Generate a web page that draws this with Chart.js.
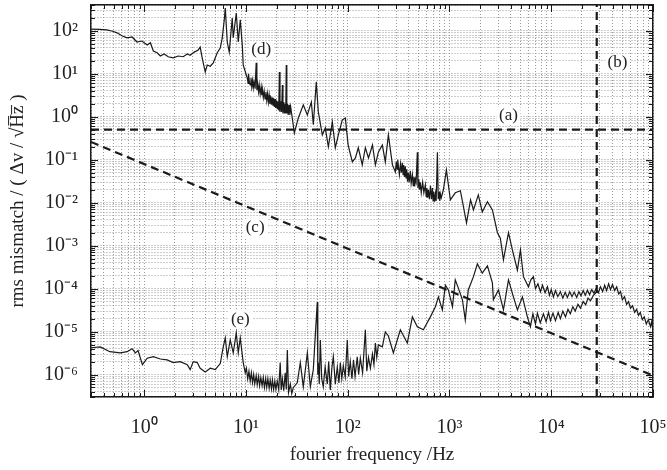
<!DOCTYPE html>
<html lang="en">
<head>
<meta charset="UTF-8">
<title>rms mismatch spectrum</title>
<script src="https://cdn.jsdelivr.net/npm/chart.js@4.4.1/dist/chart.umd.min.js"></script>
<style>
  html, body { margin: 0; padding: 0; background: #fff; }
</style>
</head>
<body>
<canvas id="spectrum" width="667" height="470"></canvas>
<script>
// axis decades and their labels
var xTickValues = [1, 10, 100, 1000, 10000, 100000];
var xTickLabels = ['10⁰', '10¹', '10²', '10³', '10⁴', '10⁵'];
var yTickValues = [1e-6, 1e-5, 1e-4, 1e-3, 1e-2, 1e-1, 1, 10, 100];
var yTickLabels = ['10⁻⁶', '10⁻⁵', '10⁻⁴', '10⁻³', '10⁻²', '10⁻¹', '10⁰', '10¹', '10²'];
var xMin = 0.3, xMax = 1e5;
var yMin = 3e-7, yMax = 400;

// (d) upper trace
var dFreq = [0.30, 0.36, 0.43, 0.49, 0.54, 0.61, 0.68, 0.76, 0.85, 0.95, 1.07, 1.15, 1.23, 1.34, 1.44, 1.57, 1.72, 1.93, 2.16, 2.42,
  2.65, 2.83, 3.1, 3.4, 3.55, 3.72, 3.98, 4.16, 4.46, 4.77, 5.22, 5.59, 5.85, 6.12, 6.26, 6.55, 6.85, 7.33, 7.5, 8.03,
  8.4, 8.79, 9.2, 9.4, 10.3, 10.5, 10.6, 10.8, 11.0, 11.2, 11.4, 11.6, 11.8, 12.0, 12.3, 12.6, 12.8, 13.0, 13.3, 13.5,
  13.8, 14.1, 14.3, 14.5, 14.8, 15.1, 15.4, 15.7, 16.0, 16.3, 16.6, 16.9, 17.2, 17.5, 17.8, 18.1, 18.4, 18.7, 19.0, 19.3,
  19.6, 20.0, 20.3, 20.7, 21.0, 21.3, 21.6, 22.0, 22.4, 22.8, 23.1, 23.5, 23.9, 24.3, 24.6, 24.9, 25.2, 25.6, 26.0, 26.5,
  27.0, 27.5, 29.9, 32.7, 36.6, 40.1, 43.9, 45.9, 49.1, 51.4, 56.3, 60.2, 64.5, 70.6, 75.5, 80.9, 88.5, 94.7, 101, 111,
  119, 127, 139, 149, 160, 175, 187, 200, 219, 234, 251, 275, 294, 300, 305, 310, 315, 322, 330, 337,
  344, 350, 355, 362, 368, 374, 380, 387, 394, 402, 412, 420, 432, 440, 448, 455, 462, 470, 483, 490,
  500, 508, 517, 528, 545, 560, 579, 590, 600, 610, 620, 635, 650, 665, 679, 690, 700, 715, 727, 740,
  761, 775, 790, 803, 814, 830, 871, 933, 1020, 1140, 1280, 1470, 1610, 1720, 1920, 2100, 2360, 2640, 2960, 3160,
  3390, 3800, 4150, 4650, 4980, 5330, 5970, 6300, 6680, 7000, 7400, 7830, 8200, 8700, 9180, 9600, 10000, 10500, 11000, 11600,
  12300, 13000, 13700, 14400, 15200, 16000, 16800, 17800, 18700, 19600, 20600, 21600, 22700, 23800, 25000, 26300, 27600, 29000, 30500, 32000,
  33500, 35000, 36600, 38200, 40000, 42000, 44000, 46000, 48000, 50000, 52500, 55000, 57500, 60100, 63000, 66000, 69000, 72000, 75000, 78500,
  82000, 86000, 90000, 94500, 97000, 100000];
var dVal = [110, 108, 105, 98, 90, 76, 69, 72, 55, 58, 47, 53, 34, 31, 26, 29, 25, 23.5, 26, 25,
  29, 27, 32, 36, 42, 23, 11, 16, 15, 18, 31, 40, 69, 180, 340, 55, 32, 200, 69, 260,
  55, 180, 47, 16, 8, 6, 10, 6.5, 5.5, 8, 5, 7, 4.7, 6.5, 4.5, 18, 4.2, 6, 3.8, 5.5,
  3.4, 5, 3.2, 4.4, 2.8, 4, 2.6, 3.8, 2.4, 3.5, 2.2, 3.2, 2.0, 3.0, 1.9, 2.8, 1.8, 2.7, 1.7, 2.6,
  1.6, 2.4, 1.5, 2.3, 1.4, 11, 1.3, 2.3, 1.3, 5.5, 1.2, 2.2, 1.2, 2.0, 1.2, 16, 1.2, 2.0, 1.1, 1.9,
  1.1, 1.7, 0.42, 0.94, 1.9, 1.1, 2.2, 0.65, 6.5, 1.3, 0.38, 0.55, 0.2, 0.76, 0.19, 0.38, 0.85, 0.94, 0.22, 0.089,
  0.11, 0.19, 0.076, 0.19, 0.11, 0.22, 0.076, 0.15, 0.22, 0.089, 0.38, 0.076, 0.052, 0.09, 0.06, 0.1, 0.07, 0.045, 0.08, 0.05,
  0.085, 0.045, 0.075, 0.04, 0.07, 0.038, 0.06, 0.031, 0.05, 0.03, 0.055, 0.028, 0.045, 0.025, 0.04, 0.024, 0.035, 0.03, 0.15, 0.022,
  0.035, 0.02, 0.03, 0.017, 0.03, 0.017, 0.026, 0.014, 0.022, 0.013, 0.02, 0.012, 0.025, 0.012, 0.022, 0.011, 0.018, 0.0105, 0.016, 0.011,
  0.15, 0.012, 0.018, 0.011, 0.016, 0.013, 0.02, 0.058, 0.0116, 0.017, 0.019, 0.0034, 0.0116, 0.0068, 0.0152, 0.0061, 0.0105, 0.0068, 0.002, 0.0015,
  0.00047, 0.002, 0.0008, 0.00027, 0.0008, 0.00019, 0.00011, 0.00016, 0.00019, 1.0e-4, 1.3e-4, 8.5e-5, 1.2e-4, 8e-5, 1.1e-4, 7e-5, 9.5e-5, 6.4e-5, 9e-5, 6.5e-5,
  8.5e-5, 6e-5, 8.2e-5, 6.2e-5, 8.5e-5, 6.5e-5, 8.3e-5, 6.2e-5, 8.5e-5, 6.8e-5, 9e-5, 7e-5, 9.2e-5, 7.2e-5, 9.5e-5, 7.8e-5, 1.0e-4, 8e-5, 1.1e-4, 8.5e-5,
  1.2e-4, 9e-5, 1.3e-4, 9.5e-5, 1.25e-4, 9e-5, 1.1e-4, 7.5e-5, 8.5e-5, 5.5e-5, 6.5e-5, 4.3e-5, 5e-5, 3.5e-5, 4e-5, 2.8e-5, 3.3e-5, 2.4e-5, 2.8e-5, 1.9e-5,
  2.2e-5, 1.5e-5, 1.9e-5, 1.3e-5, 1.7e-5, 1.0e-5];

// (e) lower trace
var eFreq = [0.30, 0.37, 0.46, 0.58, 0.68, 0.76, 0.82, 0.87, 0.96, 1.07, 1.23, 1.44, 1.68, 1.93, 2.26, 2.65, 2.83, 3.03, 3.32, 3.55,
  3.98, 4.46, 4.99, 5.59, 5.98, 6.26, 6.55, 7.01, 7.5, 8.03, 8.4, 8.79, 9.4, 9.84, 10.1, 10.4, 10.7, 11.0, 11.3, 11.6,
  11.9, 12.2, 12.6, 12.9, 13.3, 13.6, 14.0, 14.4, 14.8, 15.2, 15.6, 16.0, 16.4, 16.9, 17.3, 17.8, 18.2, 18.7, 19.2, 19.7,
  20.3, 21.0, 21.7, 22.2, 22.8, 23.5, 24.3, 24.9, 25.5, 26.2, 27.3, 28.2, 29.2, 31.9, 34.2, 36.6, 40.1, 42.9, 45.9, 50.2,
  50.8, 51.4, 52.5, 53.8, 55.5, 57.5, 60, 63.0, 65, 67.4, 70, 72.2, 75.5, 79.0, 82, 84.6, 87.5, 90.5, 94.5, 99.1,
  102, 106, 110, 114, 118, 124, 128, 133, 140, 149, 154, 160, 167, 175, 181, 187, 193, 200, 219, 234,
  251, 281, 329, 385, 432, 483, 554, 649, 727, 778, 851, 912, 975, 1070, 1140, 1220, 1340, 1430, 1530, 1720,
  1880, 2100, 2360, 2640, 2700, 3030, 3390, 3800, 4250, 4650, 5210, 5830, 6240, 6600, 7000, 7310, 7800, 8380, 8900, 9400,
  9820, 10400, 11000, 11700, 12300, 13000, 13800, 14600, 15400, 16300, 17200, 18300, 19400, 20600, 21800, 23000, 24300, 26000, 28500];
var eVal = [4.2e-6, 4.4e-6, 3.4e-6, 3.2e-6, 3.4e-6, 4.0e-6, 3.2e-6, 3.6e-6, 1.7e-6, 2.4e-6, 2.6e-6, 2.3e-6, 2.2e-6, 1.9e-6, 2.0e-6, 1.7e-6, 1.3e-6, 2.0e-6, 1.9e-6, 1.4e-6,
  1.15e-6, 1.4e-6, 1.3e-6, 1.8e-6, 4.4e-6, 7.1e-6, 2.6e-6, 6.4e-6, 3.2e-6, 9.3e-6, 3.2e-6, 7.1e-6, 1.9e-6, 1.1e-6, 1.4e-6, 8e-7, 1.2e-6, 7e-7, 1.1e-6, 6.5e-7,
  1.0e-6, 6e-7, 9.5e-7, 5.8e-7, 9e-7, 5.5e-7, 8.5e-7, 5.5e-7, 8.5e-7, 5e-7, 8e-7, 5e-7, 8e-7, 4.8e-7, 7.5e-7, 4.6e-7, 7.5e-7, 4.5e-7, 7e-7, 4.5e-7,
  7e-7, 4.4e-7, 1.9e-6, 4.4e-7, 8e-7, 4.2e-7, 1.1e-6, 4.5e-7, 3.7e-6, 3.8e-7, 6e-7, 3.6e-7, 5e-7, 6.4e-7, 1.9e-6, 5.2e-7, 3.2e-6, 5.2e-7, 1.3e-6, 4.9e-5,
  1e-6, 1.9e-6, 6e-7, 6.4e-6, 8e-7, 5.2e-7, 1.5e-6, 6e-7, 2e-6, 4.4e-7, 1.5e-6, 2.6e-6, 6e-7, 1.5e-6, 6.4e-7, 1.9e-6, 8e-7, 1.6e-6, 8.8e-7, 6.4e-6,
  9e-7, 2e-6, 8e-7, 2.2e-6, 9e-7, 2.6e-6, 1.0e-6, 2.4e-6, 1.1e-6, 1.1e-5, 1.2e-6, 2.5e-6, 1.4e-6, 3e-6, 1.7e-6, 5.4e-6, 2.5e-6, 4.9e-6, 4.4e-6, 9.8e-6,
  7.9e-6, 3.2e-6, 1.1e-5, 5.4e-6, 2.2e-5, 1.3e-5, 1.1e-5, 2.2e-5, 3.8e-5, 6.4e-5, 3.2e-5, 1.2e-4, 9.3e-5, 3.8e-5, 1.6e-4, 1.04e-4, 5.5e-5, 1.87e-5, 9.3e-5, 1.9e-4,
  3.8e-4, 2.3e-4, 3.4e-4, 1.36e-4, 5.5e-5, 9.3e-5, 3.2e-5, 1.6e-4, 6.4e-5, 3.2e-5, 6.4e-5, 2.2e-5, 1.3e-5, 2.6e-5, 1.5e-5, 2.7e-5, 1.6e-5, 2.6e-5, 1.7e-5, 2.8e-5,
  1.8e-5, 2.7e-5, 1.8e-5, 2.8e-5, 2e-5, 3e-5, 2.2e-5, 3.3e-5, 2.6e-5, 3.8e-5, 3.0e-5, 4.3e-5, 3.5e-5, 5.0e-5, 4.2e-5, 6e-5, 5.2e-5, 7e-5, 8.8e-5];

// (a) level, (b) cutoff frequency, (c) falling reference line
var levelA = 0.5;
var cutoffB = 28000;
var cFreq = [0.3, 100000];
var cVal = [0.26, 9.5e-7];

// curve labels
var noteText = ['(a)', '(b)', '(c)', '(d)', '(e)'];
var noteFreq = [3800, 44800, 12.3, 14.1, 8.8];
var noteVal = [1.05, 18, 0.0026, 36, 1.87e-5];

function pairs(xs, ys) {
  return xs.map(function (x, i) { return { x: x, y: ys[i] }; });
}

// 1..9 x 10^n ticks inside the range (ends included), decades flagged as major
function logTicks(min, max) {
  var out = [];
  var lo = Math.floor(Math.log10(min)), hi = Math.ceil(Math.log10(max));
  for (var d = lo; d <= hi; d++) {
    for (var m = 1; m <= 9; m++) {
      var v = m * Math.pow(10, d);
      if (v >= min * 0.9999 && v <= max * 1.0001) out.push({ value: v, major: m === 1 });
    }
  }
  return out;
}

function labelFor(v, values, labels) {
  for (var i = 0; i < values.length; i++) {
    if (Math.abs(Math.log10(v) - Math.log10(values[i])) < 1e-6) return labels[i];
  }
  return '';
}

// keep the plot box fixed: no extra room for half labels
function fixBox(prop, size) {
  return function (scale) {
    scale[prop] = size;
    scale.paddingTop = 0; scale.paddingBottom = 0;
    scale.paddingLeft = 0; scale.paddingRight = 0;
  };
}

var serif = 'Liberation Serif, Times New Roman, serif';
var ink = '#1a1a1a';

var framePlugin = {
  id: 'frame',
  afterDatasetsDraw: function (chart) {
    var ctx = chart.ctx, area = chart.chartArea;
    var xs = chart.scales.x, ys = chart.scales.y;
    ctx.save();
    ctx.strokeStyle = ink;
    ctx.lineWidth = 1;
    ctx.beginPath();
    xs.ticks.forEach(function (t) {
      var px = Math.round(xs.getPixelForValue(t.value)) + 0.5;
      var len = t.major ? 7 : 4;
      ctx.moveTo(px, area.bottom); ctx.lineTo(px, area.bottom - len);
      ctx.moveTo(px, area.top); ctx.lineTo(px, area.top + len);
    });
    ys.ticks.forEach(function (t) {
      var py = Math.round(ys.getPixelForValue(t.value)) + 0.5;
      var len = t.major ? 7 : 4;
      ctx.moveTo(area.left, py); ctx.lineTo(area.left + len, py);
      ctx.moveTo(area.right, py); ctx.lineTo(area.right - len, py);
    });
    ctx.stroke();

    ctx.font = '17px ' + serif;
    ctx.textAlign = 'center';
    ctx.textBaseline = 'middle';
    noteText.forEach(function (txt, i) {
      var px = xs.getPixelForValue(noteFreq[i]);
      var py = ys.getPixelForValue(noteVal[i]);
      ctx.fillStyle = '#fff';
      ctx.fillRect(px - 12, py - 9, 24, 18);
      ctx.fillStyle = '#222';
      ctx.fillText(txt, px, py);
    });
    ctx.restore();
  }
};

function axisBase(min, max) {
  return {
    type: 'logarithmic',
    min: min,
    max: max,
    afterBuildTicks: function (scale) { scale.ticks = logTicks(min, max); }
  };
}

var xAxis = axisBase(xMin, xMax);
xAxis.position = 'bottom';
xAxis.grid = { color: '#9a9a9a', lineWidth: 1, drawTicks: false };
xAxis.border = { display: true, color: ink, width: 1.5, dash: [1, 2] };
xAxis.ticks = {
  autoSkip: false, maxRotation: 0, padding: 19, color: '#222',
  font: { family: serif, size: 20 },
  callback: function (v) { return labelFor(v, xTickValues, xTickLabels); }
};
xAxis.title = { display: true, text: 'fourier frequency /Hz', color: '#222', font: { family: serif, size: 19 }, padding: { top: 0, bottom: 4 } };
xAxis.afterFit = fixBox('height', 73);

var yAxis = axisBase(yMin, yMax);
yAxis.position = 'left';
yAxis.grid = { color: '#9a9a9a', lineWidth: 1, drawTicks: false };
yAxis.border = { display: true, color: ink, width: 1.5, dash: [1, 2] };
yAxis.ticks = {
  autoSkip: false, padding: 13, color: '#222',
  font: { family: serif, size: 20 },
  callback: function (v) { return labelFor(v, yTickValues, yTickLabels); }
};
yAxis.title = { display: true, text: 'rms mismatch / ( Δv / √H̅z̅ )', color: '#222', font: { family: serif, size: 19 }, padding: { top: 7, bottom: 6 } };
yAxis.afterFit = fixBox('width', 91);

var xTop = axisBase(xMin, xMax);
xTop.position = 'top';
xTop.grid = { display: false, drawTicks: false };
xTop.border = { display: true, color: ink, width: 1.5 };
xTop.ticks = { display: false };
xTop.afterFit = fixBox('height', 5);

var yRight = axisBase(yMin, yMax);
yRight.position = 'right';
yRight.grid = { display: false, drawTicks: false };
yRight.border = { display: true, color: ink, width: 1.5 };
yRight.ticks = { display: false };
yRight.afterFit = fixBox('width', 14);

var dashed = { borderColor: ink, borderWidth: 2.2, borderDash: [8, 5], pointRadius: 0, fill: false, tension: 0 };
var trace = { borderColor: ink, borderWidth: 1.2, pointRadius: 0, fill: false, tension: 0 };

new Chart(document.getElementById('spectrum'), {
  type: 'line',
  data: {
    datasets: [
      Object.assign({ label: '(a)', data: pairs([xMin, xMax], [levelA, levelA]) }, dashed),
      Object.assign({ label: '(b)', data: pairs([cutoffB, cutoffB], [yMin, yMax]) }, dashed),
      Object.assign({ label: '(c)', data: pairs(cFreq, cVal) }, dashed),
      Object.assign({ label: '(d)', data: pairs(dFreq, dVal) }, trace),
      Object.assign({ label: '(e)', data: pairs(eFreq, eVal) }, trace)
    ]
  },
  options: {
    responsive: false,
    animation: false,
    devicePixelRatio: 1,
    layout: { padding: 0, autoPadding: false },
    plugins: { legend: { display: false }, tooltip: { enabled: false } },
    scales: { x: xAxis, y: yAxis, xTop: xTop, yRight: yRight }
  },
  plugins: [framePlugin]
});
</script>
</body>
</html>
